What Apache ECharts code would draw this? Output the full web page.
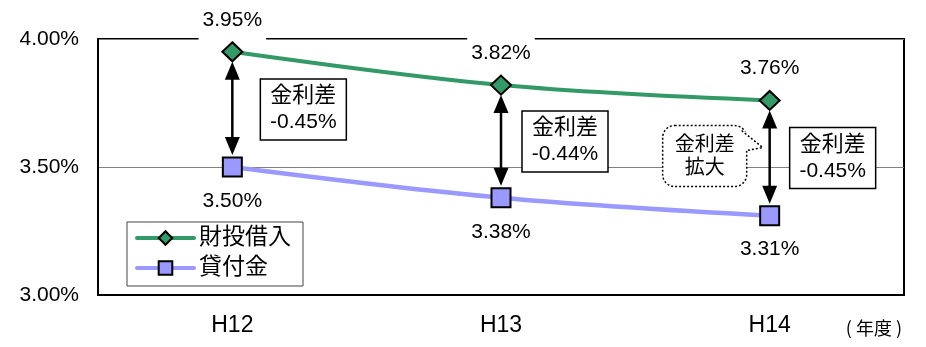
<!DOCTYPE html>
<html>
<head>
<meta charset="utf-8">
<script src="https://cdn.jsdelivr.net/npm/echarts@6/dist/echarts.min.js"></script>
<style>
html, body { margin: 0; padding: 0; background: #fff; }
#chart { width: 926px; height: 347px; }
</style>
</head>
<body>
<div id="chart"></div>
<script>
// 年度と金利（%）
var years = ['H12', 'H13', 'H14'];
var zaitoRates = [3.95, 3.82, 3.76];      // 財投借入
var kashitsukeRates = [3.50, 3.38, 3.31]; // 貸付金
var rateGaps = [-0.45, -0.44, -0.45];     // 金利差
var calloutTexts = ['', '', '金利差\n拡大'];

// 注記ボックスの横ずれ（px）
var boxShift = [28, 21, 20];

var FONT = "'Liberation Sans', 'Noto Sans CJK JP', sans-serif";

var myChart = echarts.init(document.getElementById('chart'));

function pct(v) { return v.toFixed(2) + '%'; }

var option = {
	animation: false,
	textStyle: { fontFamily: FONT, color: '#000' },
	grid: {
		left: 98, right: 22, top: 39, bottom: 52,
		show: true,
		borderColor: '#000',
		borderWidth: 2
	},
	legend: {
		orient: 'vertical',
		left: 127,
		top: 222,
		itemWidth: 57,
		itemHeight: 17,
		itemGap: 4,
		padding: [3, 12, 5, 8],
		backgroundColor: '#fff',
		borderColor: '#444',
		borderWidth: 1,
		lineStyle: { width: 4, cap: 'round' },
		textStyle: { fontSize: 23, lineHeight: 26, fontFamily: FONT, color: '#000' },
		data: ['財投借入', '貸付金']
	},
	xAxis: {
		type: 'category',
		data: years,
		axisLine: { lineStyle: { color: '#000', width: 2 } },
		axisTick: { inside: true, length: 7, lineStyle: { color: '#555', width: 1 } },
		axisLabel: { fontSize: 23, color: '#000', margin: 19 }
	},
	yAxis: {
		type: 'value',
		min: 3,
		max: 4,
		interval: 0.5,
		axisLine: { show: true, lineStyle: { color: '#000', width: 2 } },
		axisTick: { show: false },
		axisLabel: { fontSize: 21, color: '#000', margin: 19, formatter: function (v) { return pct(v); } },
		splitLine: { lineStyle: { color: '#808080', width: 1 } }
	},
	graphic: [{
		type: 'text',
		right: 24,
		top: 319,
		style: { text: '( 年度 )', fontSize: 18, fontFamily: "'Noto Sans CJK JP', sans-serif", fill: '#000' }
	}],
	series: [
		{
			name: '財投借入',
			type: 'line',
			smooth: 0.35,
			data: zaitoRates,
			symbol: 'diamond',
			symbolSize: [20, 19],
			lineStyle: { color: '#339966', width: 4 },
			itemStyle: { color: '#339966', borderColor: '#000', borderWidth: 2 },
			label: {
				show: true,
				position: 'top',
				distance: 1,
				fontSize: 21,
				color: '#000',
				backgroundColor: '#fff',
				padding: [8, 4, 10, 4],
				formatter: function (p) { return pct(p.value); }
			},
			z: 3
		},
		{
			name: '貸付金',
			type: 'line',
			smooth: 0.35,
			data: kashitsukeRates,
			symbol: 'rect',
			symbolSize: 19,
			lineStyle: { color: '#9999ff', width: 4.5 },
			itemStyle: { color: '#9999ff', borderColor: '#000', borderWidth: 2 },
			label: {
				show: true,
				position: 'bottom',
				distance: 13,
				fontSize: 21,
				color: '#000',
				formatter: function (p) { return pct(p.value); }
			},
			z: 3
		},
		{
			type: 'custom',
			clip: false,
			silent: true,
			z: 4,
			data: years.map(function (y, i) { return [i, zaitoRates[i], kashitsukeRates[i], rateGaps[i]]; }),
			renderItem: function (params, api) {
				var i = params.dataIndex;
				var top = api.coord([api.value(0), api.value(1)]);
				var bot = api.coord([api.value(0), api.value(2)]);
				var x = top[0];
				var y1 = top[1] + 10, y2 = bot[1] - 12;
				var ah = 18, aw = 7.5;
				var mid = (top[1] + bot[1]) / 2;
				var bx = x + boxShift[i];
				var children = [
					{ type: 'line', shape: { x1: x, y1: y1 + ah - 2, x2: x, y2: y2 - ah + 2 }, style: { stroke: '#000', lineWidth: 2.5 } },
					{ type: 'polygon', shape: { points: [[x, y1], [x - aw, y1 + ah], [x + aw, y1 + ah]] }, style: { fill: '#000' } },
					{ type: 'polygon', shape: { points: [[x, y2], [x - aw, y2 - ah], [x + aw, y2 - ah]] }, style: { fill: '#000' } },
					{ type: 'rect', shape: { x: bx, y: mid - 30.5, width: 86, height: 61 }, style: { fill: '#fff', stroke: '#000', lineWidth: 1.5 } },
					{ type: 'text', style: {
						x: bx + 43, y: mid, text: '{c|金利差}\n{n|' + pct(api.value(3)) + '}',
						align: 'center', verticalAlign: 'middle',
						rich: {
							c: { fontSize: 22, lineHeight: 26, fontFamily: FONT, fill: '#000' },
							n: { fontSize: 21, lineHeight: 26, fontFamily: FONT, fill: '#000' }
						}
					} }
				];
				if (calloutTexts[i]) {
					var cx = x - 107, cy = mid - 32.5;
					children.push(
						{ type: 'rect', shape: { x: cx, y: cy, width: 84, height: 61, r: 12 }, style: { fill: '#fff', stroke: '#000', lineWidth: 1.5, lineDash: [2, 2] } },
						{ type: 'rect', shape: { x: cx + 80, y: cy + 6, width: 8, height: 19 }, style: { fill: '#fff' } },
						{ type: 'polyline', shape: { points: [[cx + 79, cy + 5], [x - 7, mid - 10.5], [cx + 84, cy + 25]] }, style: { stroke: '#000', lineWidth: 1.5, lineDash: [2, 2], fill: null } },
						{ type: 'text', style: {
							x: cx + 42, y: cy + 31, text: calloutTexts[i],
							align: 'center', verticalAlign: 'middle',
							fontSize: 20, fontFamily: FONT, lineHeight: 23, fill: '#000'
						} }
					);
				}
				return { type: 'group', children: children };
			}
		}
	]
};

myChart.setOption(option);
window.onresize = myChart.resize;
</script>
</body>
</html>
